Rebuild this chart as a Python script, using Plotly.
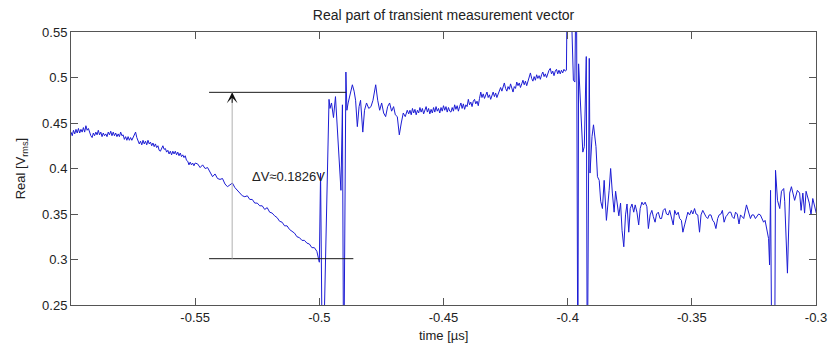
import plotly.graph_objects as go

# ---------------- data (time in µs, real part in V_rms) ----------------
seg_a1_t = [round(-0.600 + 0.0005 * i, 4) for i in range(101)]
seg_a1_v = [0.440, 0.436, 0.442, 0.438, 0.443, 0.439, 0.444, 0.439, 0.443, 0.440,
            0.445, 0.440, 0.447, 0.442, 0.444, 0.439, 0.436, 0.434, 0.439, 0.436,
            0.440, 0.437, 0.442, 0.437, 0.440, 0.435, 0.439, 0.436, 0.438, 0.435,
            0.440, 0.437, 0.441, 0.436, 0.440, 0.436, 0.439, 0.435, 0.438, 0.435,
            0.440, 0.436, 0.437, 0.432, 0.435, 0.431, 0.435, 0.431, 0.434, 0.431,
            0.434, 0.437, 0.440, 0.434, 0.431, 0.427, 0.430, 0.426, 0.431, 0.427,
            0.430, 0.426, 0.431, 0.427, 0.429, 0.425, 0.428, 0.424, 0.427, 0.423,
            0.425, 0.420, 0.419, 0.423, 0.425, 0.421, 0.422, 0.418, 0.420, 0.416,
            0.419, 0.415, 0.419, 0.416, 0.419, 0.415, 0.418, 0.414, 0.417, 0.413,
            0.415, 0.412, 0.414, 0.409, 0.408, 0.404, 0.407, 0.404, 0.406, 0.403,
            0.406]

seg_a2_t = [round(-0.549 + 0.001 * i, 3) for i in range(50)]
seg_a2_v = [0.405, 0.401, 0.404, 0.400, 0.401, 0.395, 0.391, 0.394, 0.389, 0.388,
            0.389, 0.383, 0.380, 0.382, 0.384, 0.379, 0.376, 0.374, 0.370, 0.369,
            0.370, 0.366, 0.366, 0.362, 0.362, 0.359, 0.359, 0.355, 0.357, 0.352,
            0.351, 0.348, 0.346, 0.342, 0.341, 0.337, 0.337, 0.333, 0.331, 0.329,
            0.325, 0.324, 0.321, 0.321, 0.318, 0.317, 0.313, 0.313, 0.309, 0.297]

seg_b_t = [-0.4995, -0.4987, -0.4961, -0.4957, -0.4951, -0.4943, -0.4935, -0.4927,
           -0.4919, -0.4913, -0.4907, -0.4902, -0.4893]
seg_b_v = [0.395, 0.150, 0.476, 0.466, 0.472, 0.456, 0.479, 0.445,
           0.405, 0.376, 0.470, 0.150, 0.506]

seg_c_t = [-0.4889, -0.4884, -0.4876, -0.4867, -0.4860, -0.4854, -0.4847, -0.4840,
           -0.4834, -0.4825, -0.4818, -0.4810, -0.4801, -0.4792, -0.4784, -0.4773,
           -0.4765, -0.4757, -0.4749, -0.4741, -0.4733, -0.4725, -0.4717, -0.4709,
           -0.4701, -0.4694, -0.4686, -0.4678, -0.4670, -0.4662, -0.4654, -0.4646]
seg_c_v = [0.464, 0.472, 0.483, 0.492, 0.485, 0.475, 0.446, 0.468,
           0.475, 0.440, 0.464, 0.472, 0.466, 0.468, 0.475, 0.492,
           0.475, 0.464, 0.472, 0.461, 0.457, 0.468, 0.472, 0.463,
           0.468, 0.459, 0.457, 0.437, 0.450, 0.461, 0.457, 0.464]

seg_c2_t = [round(-0.4640 + 0.0005 * i, 4) for i in range(34)]
seg_c2_v = [0.460, 0.464, 0.459, 0.466, 0.461, 0.465, 0.459, 0.464, 0.461, 0.467,
            0.462, 0.466, 0.460, 0.465, 0.468, 0.462, 0.466, 0.460, 0.465, 0.461,
            0.467, 0.462, 0.468, 0.463, 0.466, 0.461, 0.467, 0.463, 0.469, 0.464,
            0.468, 0.462, 0.467, 0.463]

seg_d_t = [round(-0.4470 + 0.0005 * i, 4) for i in range(93)]
seg_d_v = [0.462, 0.467, 0.463, 0.470, 0.465, 0.469, 0.463, 0.468, 0.472, 0.466,
           0.471, 0.465, 0.470, 0.468, 0.476, 0.470, 0.473, 0.468, 0.474, 0.476,
           0.471, 0.474, 0.469, 0.477, 0.484, 0.478, 0.482, 0.477, 0.481, 0.484,
           0.478, 0.481, 0.476, 0.480, 0.484, 0.479, 0.483, 0.478, 0.482, 0.486,
           0.489, 0.485, 0.491, 0.494, 0.488, 0.485, 0.490, 0.487, 0.493, 0.489,
           0.484, 0.490, 0.488, 0.495, 0.491, 0.494, 0.489, 0.493, 0.497, 0.492,
           0.496, 0.491, 0.496, 0.500, 0.505, 0.499, 0.496, 0.501, 0.497, 0.503,
           0.499, 0.502, 0.498, 0.503, 0.506, 0.501, 0.504, 0.500, 0.505, 0.508,
           0.510, 0.504, 0.507, 0.502, 0.507, 0.509, 0.504, 0.508, 0.504, 0.508,
           0.505, 0.509, 0.507]

seg_e_t = [-0.4005, -0.4000, -0.3993, -0.3977, -0.3971, -0.3965, -0.3959, -0.3956,
           -0.3948, -0.3939, -0.3933, -0.3925, -0.3921, -0.3913, -0.3910, -0.3902,
           -0.3896, -0.3886, -0.3880, -0.3873, -0.3867, -0.3860, -0.3853, -0.3844,
           -0.3833, -0.3827, -0.3820, -0.3813, -0.3807, -0.3800, -0.3794, -0.3787,
           -0.3781, -0.3774]
seg_e_v = [0.508, 0.650, 0.650, 0.497, 0.495, 0.650, 0.150, 0.515,
           0.472, 0.418, 0.424, 0.523, 0.150, 0.521, 0.395, 0.435,
           0.448, 0.424, 0.391, 0.387, 0.364, 0.356, 0.387, 0.343,
           0.376, 0.400, 0.373, 0.352, 0.375, 0.358, 0.348, 0.362,
           0.332, 0.314]

seg_f_t = [-0.3767, -0.3761, -0.3754, -0.3748, -0.3741, -0.3734, -0.3728, -0.3721,
           -0.3714, -0.3708, -0.3701, -0.3695, -0.3688, -0.3681, -0.3675, -0.3668,
           -0.3661, -0.3655, -0.3648, -0.3642, -0.3635, -0.3628, -0.3622, -0.3615,
           -0.3608, -0.3602, -0.3595, -0.3589, -0.3582, -0.3575, -0.3569, -0.3562,
           -0.3555, -0.3549, -0.3542, -0.3536, -0.3529, -0.3522, -0.3516, -0.3509,
           -0.3502, -0.3496, -0.3489, -0.3483, -0.3476, -0.3469, -0.3463, -0.3456,
           -0.3449, -0.3443, -0.3436, -0.3430, -0.3423, -0.3416, -0.3410, -0.3403,
           -0.3396, -0.3390, -0.3383, -0.3377, -0.3370, -0.3363, -0.3357, -0.3350,
           -0.3343, -0.3337, -0.3330, -0.3324, -0.3317, -0.3310, -0.3304, -0.3297,
           -0.3291, -0.3280, -0.3271, -0.3264, -0.3258, -0.3251, -0.3244, -0.3238,
           -0.3231, -0.3224, -0.3218, -0.3211, -0.3205, -0.3198, -0.3191, -0.3187]
seg_f_v = [0.349, 0.361, 0.330, 0.356, 0.361, 0.352, 0.360, 0.352,
           0.338, 0.356, 0.363, 0.360, 0.363, 0.358, 0.334, 0.349,
           0.354, 0.347, 0.341, 0.350, 0.352, 0.345, 0.345, 0.354,
           0.356, 0.350, 0.349, 0.354, 0.347, 0.338, 0.354, 0.349,
           0.352, 0.345, 0.343, 0.330, 0.338, 0.345, 0.352, 0.349,
           0.354, 0.350, 0.356, 0.350, 0.349, 0.330, 0.349, 0.354,
           0.350, 0.347, 0.345, 0.349, 0.349, 0.343, 0.341, 0.334,
           0.345, 0.349, 0.350, 0.354, 0.341, 0.347, 0.349, 0.352,
           0.352, 0.347, 0.345, 0.352, 0.350, 0.339, 0.349, 0.347,
           0.345, 0.360, 0.352, 0.345, 0.349, 0.349, 0.345, 0.347,
           0.350, 0.349, 0.345, 0.341, 0.343, 0.334, 0.323, 0.294]

seg_g_t = [-0.3183, -0.3177, -0.3167, -0.3163, -0.3155, -0.3146, -0.3139, -0.3130,
           -0.3126, -0.3115, -0.3106, -0.3099, -0.3086, -0.3075, -0.3066, -0.3060,
           -0.3053, -0.3046, -0.3040, -0.3027, -0.3020, -0.3013, -0.3004, -0.2999]
seg_g_v = [0.376, 0.150, 0.150, 0.398, 0.365, 0.356, 0.375, 0.378,
           0.364, 0.285, 0.373, 0.380, 0.365, 0.376, 0.373, 0.354,
           0.373, 0.351, 0.375, 0.362, 0.349, 0.367, 0.358, 0.351]

time_us = (seg_a1_t + seg_a2_t + seg_b_t + seg_c_t + seg_c2_t + seg_d_t
           + seg_e_t + seg_f_t + seg_g_t)
real_v = (seg_a1_v + seg_a2_v + seg_b_v + seg_c_v + seg_c2_v + seg_d_v
          + seg_e_v + seg_f_v + seg_g_v)

x_tickvals = [-0.55, -0.5, -0.45, -0.4, -0.35, -0.3]
x_ticktext = ["-0.55", "-0.5", "-0.45", "-0.4", "-0.35", "-0.3"]
y_tickvals = [0.25, 0.3, 0.35, 0.4, 0.45, 0.5, 0.55]
y_ticktext = ["0.25", "0.3", "0.35", "0.4", "0.45", "0.5", "0.55"]

# delta-V marker (data units)
dv_low = 0.3009
dv_high = 0.4837
dv_x_left = -0.5444
dv_top_right = -0.4892
dv_bot_right = -0.4863
dv_arrow_x = -0.5351
dv_label = "ΔV≈0.1826V"
dv_label_x = -0.5278
dv_label_y = 0.391

FONT = "Liberation Sans, Arial, Helvetica, sans-serif"
AX = "#555555"
TXT = "#222222"

fig = go.Figure()
fig.add_trace(go.Scatter(x=time_us, y=real_v, mode="lines",
                         line=dict(color="rgb(28,28,212)", width=1),
                         hoverinfo="skip", showlegend=False))

# delta-V construction lines
fig.add_shape(type="line", x0=dv_x_left, x1=dv_top_right, y0=dv_high, y1=dv_high,
              line=dict(color="#1a1a1a", width=1))
fig.add_shape(type="line", x0=dv_x_left, x1=dv_bot_right, y0=dv_low, y1=dv_low,
              line=dict(color="#1a1a1a", width=1))
fig.add_shape(type="line", x0=dv_arrow_x, x1=dv_arrow_x, y0=dv_low, y1=dv_high,
              line=dict(color="#b0b0b0", width=1))
fig.add_annotation(x=dv_arrow_x, y=dv_high, xref="x", yref="y", text="",
                   showarrow=True, ax=0, ay=12, arrowhead=3, arrowsize=1.8,
                   arrowwidth=1, arrowcolor="#111111")
fig.add_annotation(x=dv_label_x, y=dv_label_y, xref="x", yref="y", text=dv_label,
                   showarrow=False, xanchor="left", yanchor="middle",
                   font=dict(family=FONT, size=13, color=TXT))

# axis titles
fig.add_annotation(x=-0.066, y=0.5, xref="paper", yref="paper",
                   text="Real [V<sub>rms</sub>]", textangle=-90, showarrow=False,
                   xanchor="center", yanchor="middle",
                   font=dict(family=FONT, size=13, color=TXT))
fig.add_annotation(x=0.5, y=-0.11, xref="paper", yref="paper",
                   text="time [µs]", showarrow=False,
                   xanchor="center", yanchor="middle",
                   font=dict(family=FONT, size=13, color=TXT))

fig.update_layout(
    width=839, height=344, autosize=False,
    margin=dict(l=71, r=12, t=32, b=39, pad=0),
    paper_bgcolor="white", plot_bgcolor="white",
    font=dict(family=FONT, size=13, color=TXT),
    title=dict(text="Real part of transient measurement vector",
               x=0.5, xref="paper", xanchor="center",
               y=1 - 15 / 344, yref="container", yanchor="middle",
               font=dict(family=FONT, size=14, color=TXT)),
    xaxis=dict(range=[-0.6, -0.3], tickvals=x_tickvals, ticktext=x_ticktext,
               ticks="inside", ticklen=7, tickcolor=AX, tickwidth=1,
               showline=True, linecolor=AX, linewidth=1, mirror="ticks",
               showgrid=False, zeroline=False,
               tickfont=dict(family=FONT, size=13, color=TXT)),
    yaxis=dict(range=[0.25, 0.55], tickvals=y_tickvals, ticktext=y_ticktext,
               ticks="inside", ticklen=7, tickcolor=AX, tickwidth=1,
               showline=True, linecolor=AX, linewidth=1, mirror="ticks",
               showgrid=False, zeroline=False,
               tickfont=dict(family=FONT, size=13, color=TXT)),
)

fig.write_html("out.html")
